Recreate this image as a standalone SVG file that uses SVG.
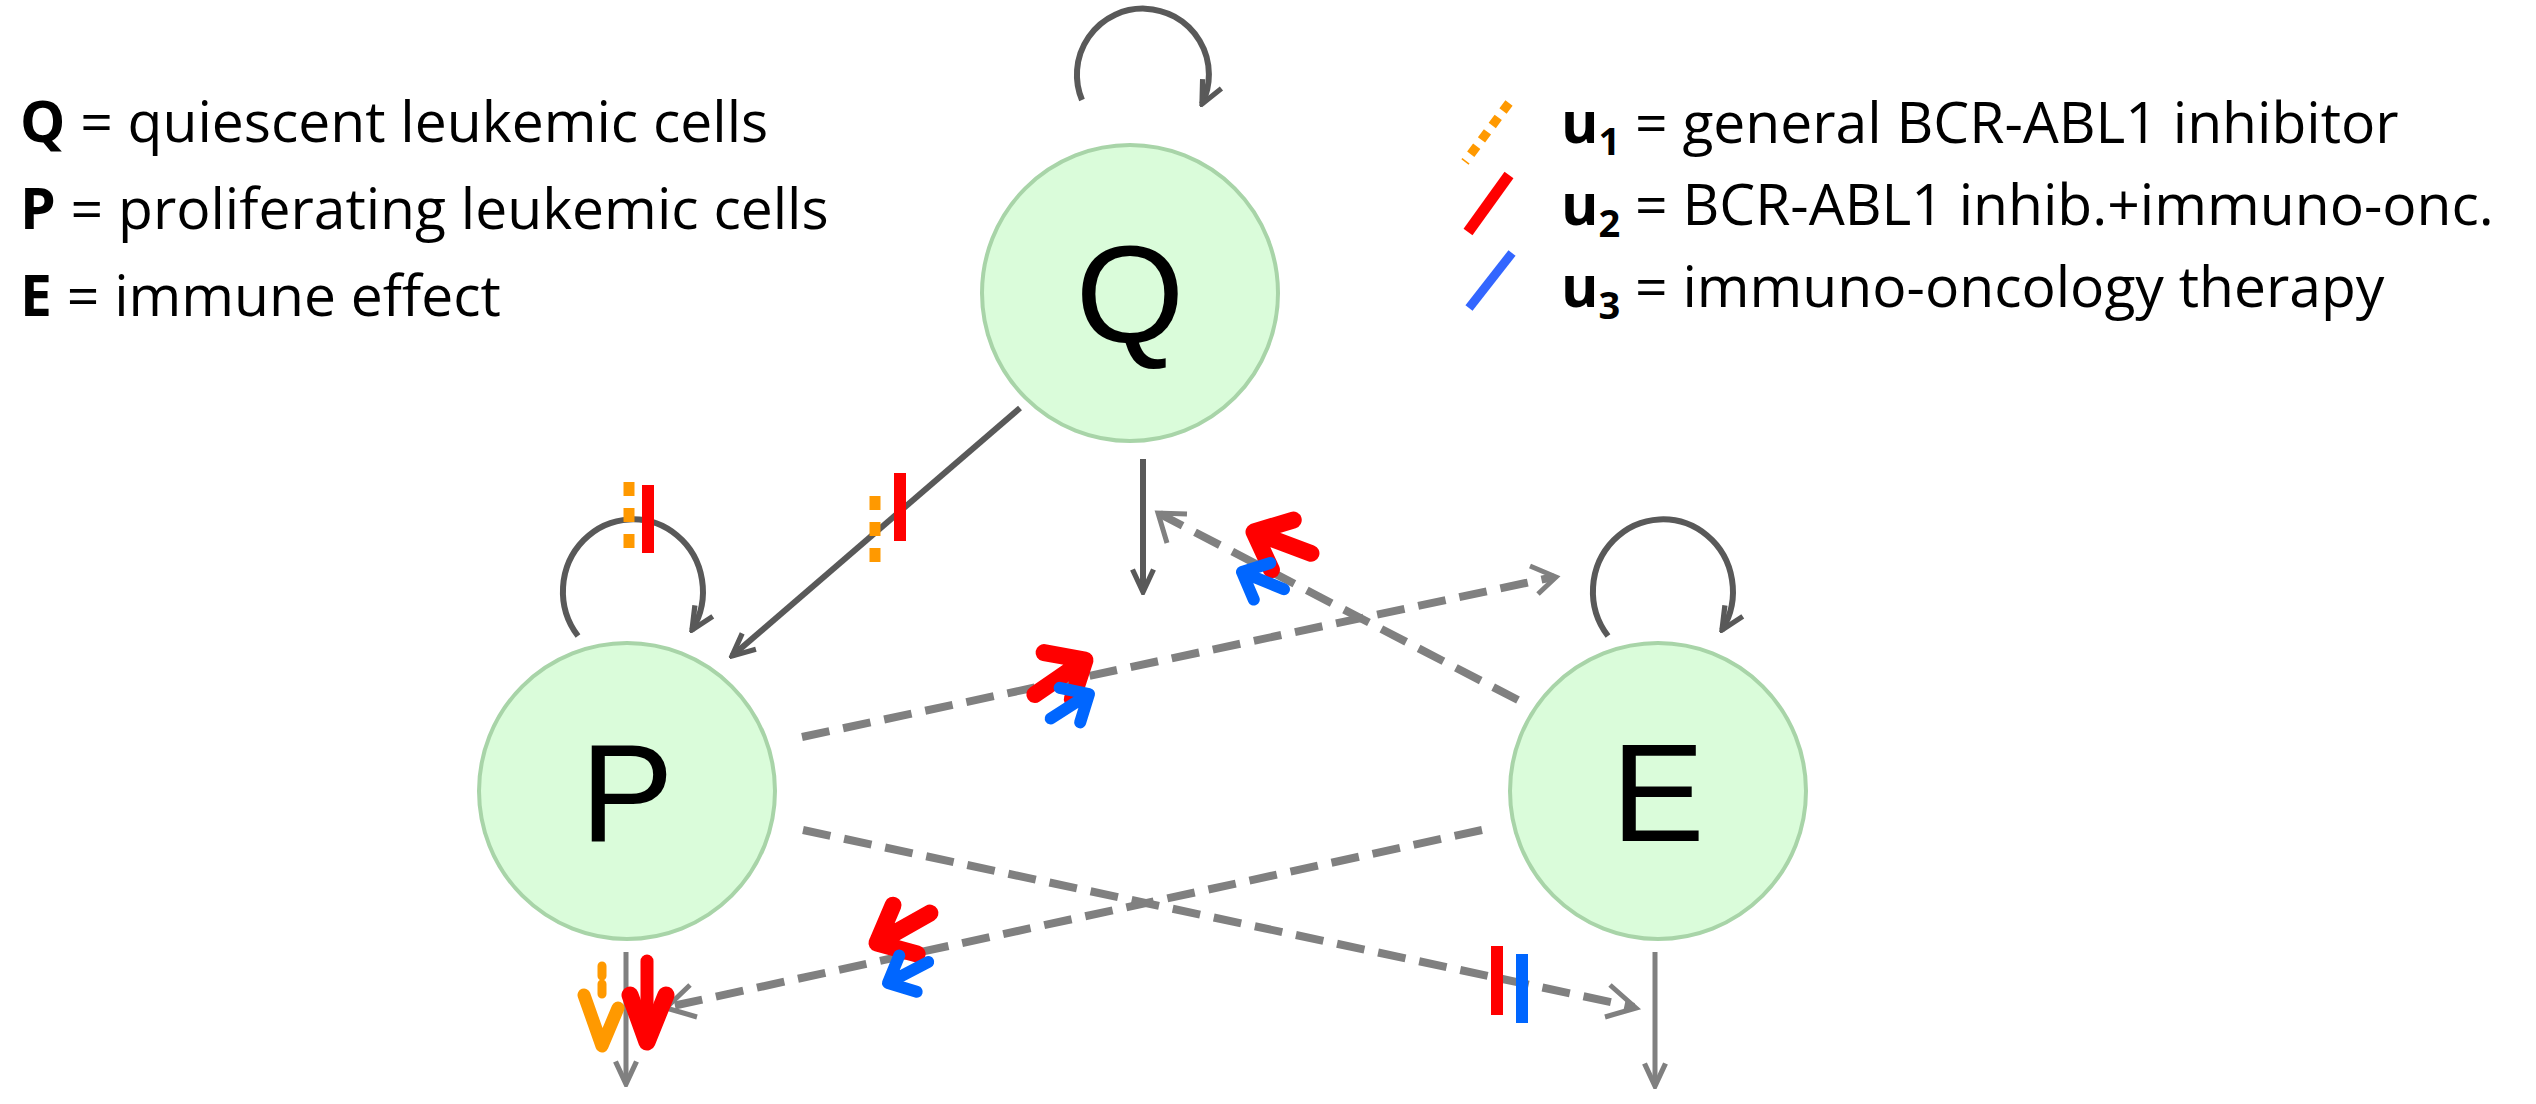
<svg xmlns="http://www.w3.org/2000/svg" width="2536" height="1104" viewBox="0 0 2536 1104">
<style>
.node{fill:#dafcda;stroke:#a8d4a8;stroke-width:4}
.lbl{font-family:"Liberation Sans",Arial,sans-serif;font-size:140px;fill:#000;text-anchor:middle}
.leg{font-family:"Open Sans","Liberation Sans",sans-serif;font-size:57px;fill:#000}
.solid{stroke:#595959;stroke-width:6;fill:none}
.gray{stroke:#808080;stroke-width:5;fill:none}
.dash{stroke:#808080;stroke-width:8;fill:none;stroke-dasharray:28,14}
.red{stroke:#ff0000;fill:none}
.blue{stroke:#0066ff;fill:none}
.org{stroke:#ff9900;fill:none}
</style>
<defs>
<marker id="ah" viewBox="0 0 20 20" refX="18" refY="10" markerWidth="30" markerHeight="30" markerUnits="userSpaceOnUse" orient="auto"><path d="M3,3 L18,10 L3,17" fill="none" stroke="#595959" stroke-width="3.5"/></marker>
<marker id="ahg" viewBox="0 0 20 20" refX="18" refY="10" markerWidth="30" markerHeight="30" markerUnits="userSpaceOnUse" orient="auto"><path d="M3,3 L18,10 L3,17" fill="none" stroke="#808080" stroke-width="3.5"/></marker>
</defs>
<g id="legend-left" class="leg">
<text x="20" y="142"><tspan font-weight="bold">Q</tspan> = quiescent leukemic cells</text>
<text x="20" y="229"><tspan font-weight="bold">P</tspan> = proliferating leukemic cells</text>
<text x="20" y="316"><tspan font-weight="bold">E</tspan> = immune effect</text>
</g>
<g id="legend-right" class="leg">
<path d="M1509,103 L1465,162" class="org" stroke-width="9" stroke-dasharray="10,8"/>
<path d="M1509,175 L1468,232" class="red" stroke-width="11"/>
<path d="M1512,253 L1469,308" stroke="#3366ff" stroke-width="9"/>
<text x="1561" y="143"><tspan font-weight="bold">u<tspan font-size="38" dy="12">1</tspan></tspan><tspan dy="-12"> = general BCR-ABL1 inhibitor</tspan></text>
<text x="1561" y="225"><tspan font-weight="bold">u<tspan font-size="38" dy="12">2</tspan></tspan><tspan dy="-12"> = BCR-ABL1 inhib.+immuno-onc.</tspan></text>
<text x="1561" y="307"><tspan font-weight="bold">u<tspan font-size="38" dy="12">3</tspan></tspan><tspan dy="-12"> = immuno-oncology therapy</tspan></text>
</g>
<g id="connectors">
<path d="M1082,100 A66,66 0 1 1 1202,104" class="solid" marker-end="url(#ah)"/>
<path d="M578,636 A70,72 0 1 1 692,630" class="solid" marker-end="url(#ah)"/>
<path d="M1608,636 A70,72 0 1 1 1722,630" class="solid" marker-end="url(#ah)"/>
<path d="M1020,408 L732,656" class="solid" marker-end="url(#ah)"/>
<path d="M1143,459 L1143,592" class="solid" marker-end="url(#ah)"/>
<path d="M626,952 L626,1084" class="gray" marker-end="url(#ahg)"/>
<path d="M1655,952 L1655,1086" class="gray" marker-end="url(#ahg)"/>
<path d="M802,737 L1554,577" class="dash"/>
<path d="M1530,566 L1556,577 L1538,594" class="gray" stroke-width="8"/>
<path d="M1518,700 L1160,514" class="dash"/>
<path d="M1167,543 L1158,513 L1187,514" class="gray" stroke-width="8"/>
<path d="M1482,830 L668,1007" class="dash"/>
<path d="M1610,985 L1636,1008 L1605,1017" class="gray" stroke-width="8"/>
<path d="M803,830 L1634,1007" class="dash"/>
<path d="M690,985 L666,1008 L697,1017" class="gray" stroke-width="8"/>
</g>
<g id="inhibitors">
<path d="M629,482 L629,552" class="org" stroke-width="11" stroke-dasharray="14,12"/>
<path d="M648,485 L648,553" class="red" stroke-width="12"/>
<path d="M875,496 L875,564" class="org" stroke-width="11" stroke-dasharray="14,12"/>
<path d="M900,473 L900,541" class="red" stroke-width="12"/>
<path d="M1497,946 L1497,1015" class="red" stroke-width="12"/>
<path d="M1522,954 L1522,1023" class="blue" stroke-width="12"/>
</g>
<g id="therapy-arrows" stroke-linecap="round" stroke-linejoin="round">
<g transform="translate(1085,660) rotate(-25)"><path d="M-60,10 L0,0 M-34,-24 L0,0 L-28,30" class="red" stroke-width="17"/></g>
<g transform="translate(1089,694) rotate(-25)"><path d="M-45,6 L0,0 M-24,-18 L0,0 L-20,22" class="blue" stroke-width="12"/></g>
<g transform="translate(1254,532) rotate(-150)"><path d="M-60,10 L0,0 M-34,-24 L0,0 L-28,30" class="red" stroke-width="17"/></g>
<g transform="translate(1242,572) rotate(-150)"><path d="M-45,6 L0,0 M-24,-18 L0,0 L-20,22" class="blue" stroke-width="12"/></g>
<g transform="translate(877,943) rotate(160)"><path d="M-60,10 L0,0 M-34,-24 L0,0 L-28,30" class="red" stroke-width="17"/></g>
<g transform="translate(888,983) rotate(160)"><path d="M-45,6 L0,0 M-24,-18 L0,0 L-20,22" class="blue" stroke-width="12"/></g>
<path d="M602,966 L602,1000" class="org" stroke-width="9" stroke-dasharray="10,8"/>
<path d="M584,995 L602,1046 L618,1008" class="org" stroke-width="13"/>
<path d="M647,961 L647,1040" class="red" stroke-width="13"/>
<path d="M630,995 L647,1042 L666,995" class="red" stroke-width="17"/>
</g>
<g id="node-Q"><circle cx="1130" cy="293" r="148" class="node"/><text x="1130" y="343" class="lbl">Q</text></g>
<g id="node-P"><circle cx="627" cy="791" r="148" class="node"/><text x="627" y="841" class="lbl">P</text></g>
<g id="node-E"><circle cx="1658" cy="791" r="148" class="node"/><text x="1658" y="841" class="lbl">E</text></g>
</svg>
